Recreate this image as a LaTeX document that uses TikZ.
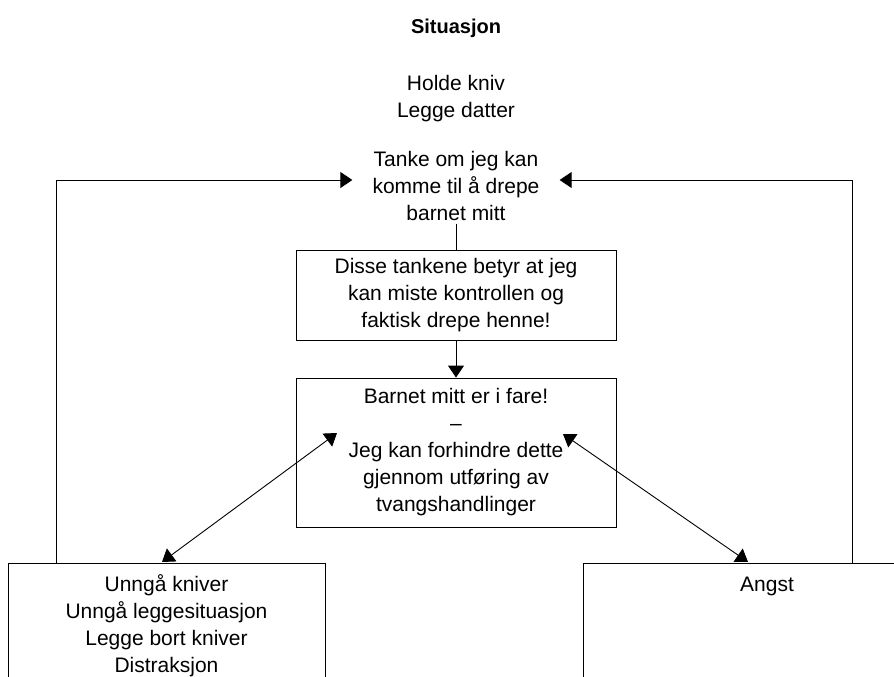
\documentclass[tikz,border=0pt]{standalone}
\usepackage{fontspec}
\setmainfont{Liberation Sans}
\usetikzlibrary{arrows.meta,calc}
\begin{document}
\begin{tikzpicture}[x=1pt,y=-1pt,
  every node/.style={font=\fontsize{21}{27}\selectfont, align=center, inner sep=0pt},
  box/.style={draw, line width=0.9pt},
  conn/.style={line width=0.9pt},
  tip/.style={-{Triangle[length=12pt,width=16pt]}},
  dtip/.style={{Triangle[length=12pt,width=16pt]}-{Triangle[length=12pt,width=16pt]}}
]
\useasboundingbox (0,0) rectangle (894,677);
\clip (0,0) rectangle (894,677);
\node[font=\fontsize{20}{24}\selectfont\bfseries] (sit) at (456,28) {Situasjon};
\node (hold) at (456,99) {Holde kniv\\Legge datter};
\node[inner xsep=20pt, inner ysep=3pt] (tanke) at (456,186) {Tanke om jeg kan\\komme til å drepe\\barnet mitt};
\node[box, minimum width=320, minimum height=90] (b1) at (456,295) {Disse tankene betyr at jeg\\kan miste kontrollen og\\faktisk drepe henne!};
\node[box, minimum width=320, minimum height=149] (b2) at (456,452.5) {Barnet mitt er i fare!\\–\\Jeg kan forhindre dette\\gjennom utføring av\\tvangshandlinger};
\node[box, anchor=north, minimum width=317, inner ysep=11pt, text depth=120pt] (lb) at (166.5,563) {Unngå kniver\\Unngå leggesituasjon\\Legge bort kniver\\Distraksjon};
\node[box, anchor=north, minimum width=368, inner ysep=14pt, text depth=120pt] (rb) at (767,563) {Angst};
\draw[conn] (tanke.south) -- (b1.north);
\draw[conn,tip] (b1.south) -- (b2.north);
\draw[conn,tip] ($(lb.north west)+(49,0)$) |- ($(tanke.west)+(0,-6)$);
\draw[conn,tip] ($(rb.north west)+(270,0)$) |- ($(tanke.east)+(0,-6)$);
\draw[conn,dtip] ($(b2.center)+(-119,-19.5)$) -- ($(lb.north)+(-4.5,-1)$);
\draw[conn,dtip] ($(b2.center)+(107,-18.5)$) -- ($(rb.north)+(-19,-1)$);
\end{tikzpicture}
\end{document}
